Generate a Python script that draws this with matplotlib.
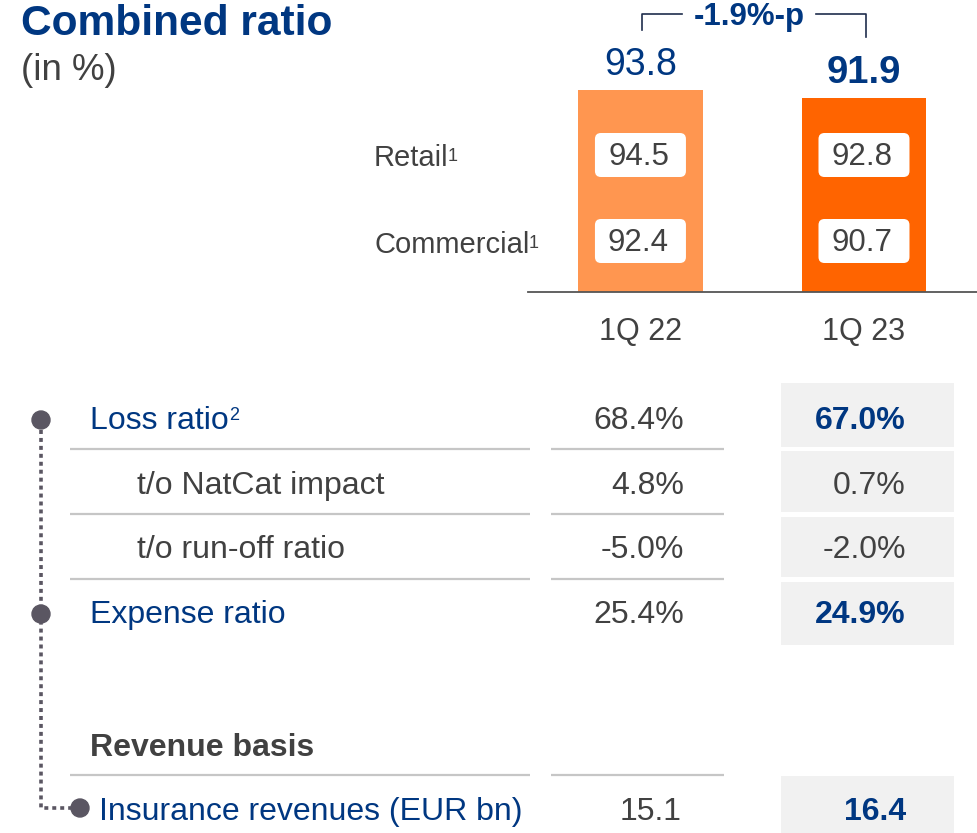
import matplotlib.pyplot as plt
from matplotlib.patches import FancyBboxPatch, Rectangle, Circle

plt.rcParams['font.family'] = ['Liberation Sans', 'DejaVu Sans']

BLUE = '#003781'
GREY = '#414141'
DOT = '#5a5662'
LINE = '#c6c6c6'
BOX = '#f1f1f1'

# bar chart data
categories = ['1Q 22', '1Q 23']
combined = [93.8, 91.9]
retail = [94.5, 92.8]
commercial = [92.4, 90.7]
change_label = '-1.9%-p'
bar_colors = ['#FF9650', '#FF6400']

# table data
row_labels = ['Loss ratio', 't/o NatCat impact', 't/o run-off ratio', 'Expense ratio']
row_prev = [68.4, 4.8, -5.0, 25.4]
row_curr = [67.0, 0.7, -2.0, 24.9]
row_main = [True, False, False, True]
revenue_label = 'Insurance revenues (EUR bn)'
revenue_prev = 15.1
revenue_curr = 16.4

W, H = 978, 833
TS = 23  # table font size
fig = plt.figure(figsize=(W / 100, H / 100), dpi=100)

# bars live in their own axes, everything else in a pixel-sized overlay
ax_bar = fig.add_axes([528 / W, 1 - 292 / H, 450 / W, 292 / H])
ax = fig.add_axes([0, 0, 1, 1])
ax.set_xlim(0, W)
ax.set_ylim(H, 0)
ax.axis('off')
ax.patch.set_visible(False)
ax_bar.set_zorder(1)
ax.set_zorder(2)

xs = list(range(len(categories)))
ax_bar.bar(xs, combined, width=0.559, color=bar_colors)
ax_bar.set_xlim(-0.503, 1.510)
ax_bar.set_ylim(45.8, 115.2)
for s in ['top', 'right', 'left']:
    ax_bar.spines[s].set_visible(False)
ax_bar.spines['bottom'].set_color('#555555')
ax_bar.spines['bottom'].set_linewidth(1.3)
ax_bar.set_xticks([])
ax_bar.set_yticks([])
ax_bar.patch.set_visible(False)

for i, v in zip(xs, combined):
    bold = i == len(xs) - 1
    ax_bar.annotate(f'{v:.1f}', (i, v), xytext=(0, 11), textcoords='offset points',
                    ha='center', va='baseline', color=BLUE,
                    fontsize=27.5 if bold else 27,
                    fontweight='bold' if bold else 'normal')


def to_px(xv, yv):
    disp = ax_bar.transData.transform((xv, yv))
    return ax.transData.inverted().transform(disp)


centers = [to_px(i, 0)[0] for i in xs]

# bracket with change
bc = '#1f2d4d'
ax.plot([centers[0] + 2, centers[0] + 2, 682], [30, 14, 14], color=bc, lw=1.2)
ax.plot([816, centers[1] + 2, centers[1] + 2], [14, 14, 37], color=bc, lw=1.2)
ax.text((centers[0] + centers[1]) / 2 - 3, 25, change_label, ha='center', va='baseline',
        color=BLUE, fontsize=22.5, fontweight='bold')

# segment boxes inside bars
for y_top, vals in [(133, retail), (219, commercial)]:
    for c, v in zip(centers, vals):
        ax.add_patch(FancyBboxPatch((c - 45.5, y_top), 91, 44,
                                    boxstyle='round,pad=0,rounding_size=6',
                                    fc='white', ec='none'))
        ax.text(c - 2, y_top + 32, f'{v:.1f}', ha='center', va='baseline',
                color=GREY, fontsize=22.5)

ax.text(374, 166, 'Retail', ha='left', va='baseline', color=GREY, fontsize=21)
ax.text(448, 161, '1', ha='left', va='baseline', color=GREY, fontsize=13)
ax.text(374, 253, 'Commercial', ha='left', va='baseline', color=GREY, fontsize=21)
ax.text(529, 248, '1', ha='left', va='baseline', color=GREY, fontsize=13)

for c, lab in zip(centers, categories):
    ax.text(c, 340, lab, ha='center', va='baseline', color=GREY, fontsize=22)

# title
ax.text(21, 35, 'Combined ratio', ha='left', va='baseline', color=BLUE,
        fontsize=30.6, fontweight='bold')
ax.text(21, 80, '(in %)', ha='left', va='baseline', color=GREY, fontsize=26.4)

# table
baselines = [429, 494, 558, 623]
box_tops = [383, 451, 517, 582]
box_bots = [447, 512, 577, 645]
for k, (lab, p, c, main) in enumerate(zip(row_labels, row_prev, row_curr, row_main)):
    yb = baselines[k]
    ax.add_patch(Rectangle((781, box_tops[k]), 173, box_bots[k] - box_tops[k],
                           fc=BOX, ec='none'))
    ax.text(90 if main else 137, yb, lab, ha='left', va='baseline',
            color=BLUE if main else GREY, fontsize=TS)
    ax.text(684, yb, f'{p:.1f}%', ha='right', va='baseline', color=GREY, fontsize=TS)
    ax.text(906, yb, f'{c:.1f}%', ha='right', va='baseline',
            color=BLUE if main else GREY, fontsize=TS,
            fontweight='bold' if main else 'normal')
ax.text(229, 420, '2', ha='left', va='baseline', color=BLUE, fontsize=13)

for yl in [449, 514, 579, 775]:
    ax.plot([70, 530], [yl, yl], color=LINE, lw=1.6, solid_capstyle='butt')
    ax.plot([551, 724], [yl, yl], color=LINE, lw=1.6, solid_capstyle='butt')

ax.text(90, 756, 'Revenue basis', ha='left', va='baseline', color=GREY,
        fontsize=TS, fontweight='bold')
ax.add_patch(Rectangle((781, 776), 173, H - 776, fc=BOX, ec='none'))
ax.text(99, 820, revenue_label, ha='left', va='baseline', color=BLUE, fontsize=TS)
ax.text(682, 820, f'{revenue_prev:.1f}', ha='right', va='baseline', color=GREY, fontsize=TS)
ax.text(906, 820, f'{revenue_curr:.1f}', ha='right', va='baseline', color=BLUE,
        fontsize=TS, fontweight='bold')

# dotted connector
ax.plot([41, 41, 71], [430, 808, 808], color=DOT, lw=2.6,
        linestyle=(0, (1.1, 1.1)), dash_capstyle='butt')
for cx, cy in [(41, 420), (41, 614), (80, 808)]:
    ax.add_patch(Circle((cx, cy), 9, color=DOT))

fig.savefig('out.png', dpi=100)
